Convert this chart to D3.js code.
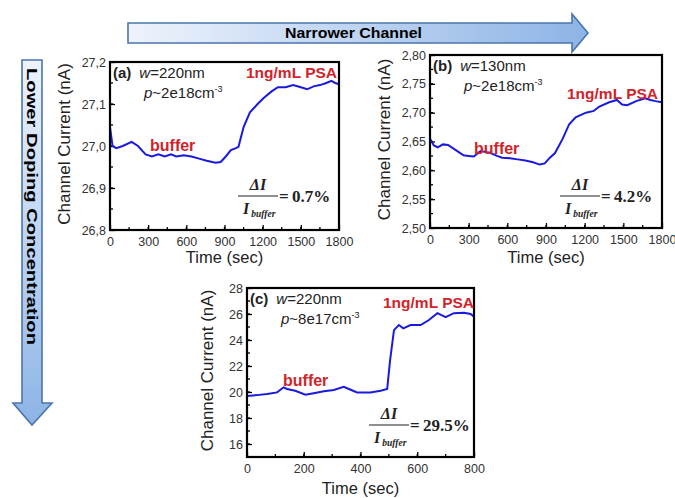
<!DOCTYPE html>
<html>
<head>
<meta charset="utf-8">
<script src="https://cdn.jsdelivr.net/npm/d3@7"></script>
<style>
  body { margin: 0; background: #fff; }
  svg { font-family: Arial, "Liberation Sans", sans-serif; }
  .tick text { fill: #333; }
</style>
</head>
<body>
<div id="fig"></div>
<script>
// readings, one set per panel
var timeA = [0, 20, 50, 100, 170, 220, 280, 330, 380, 430, 480, 520, 580, 640, 700, 760, 830, 870, 910, 950, 990, 1010, 1050, 1100, 1160, 1210, 1270, 1320, 1380, 1440, 1500, 1550, 1600, 1650, 1700, 1740, 1770, 1800];
var currA = [27.045, 27.0, 26.995, 27.0, 27.01, 27.0, 26.98, 26.975, 26.98, 26.975, 26.98, 26.975, 26.978, 26.975, 26.97, 26.965, 26.96, 26.962, 26.975, 26.99, 26.995, 26.998, 27.045, 27.08, 27.1, 27.115, 27.13, 27.14, 27.14, 27.145, 27.14, 27.135, 27.142, 27.145, 27.15, 27.155, 27.15, 27.147];

var timeB = [0, 30, 60, 100, 140, 200, 260, 300, 340, 390, 430, 470, 520, 560, 620, 680, 740, 800, 850, 890, 930, 970, 1030, 1080, 1130, 1210, 1270, 1310, 1390, 1450, 1490, 1530, 1600, 1670, 1710, 1750, 1800];
var currB = [2.655, 2.643, 2.640, 2.645, 2.644, 2.635, 2.626, 2.625, 2.624, 2.633, 2.632, 2.630, 2.625, 2.622, 2.621, 2.619, 2.617, 2.614, 2.610, 2.612, 2.622, 2.630, 2.655, 2.680, 2.692, 2.700, 2.703, 2.710, 2.718, 2.722, 2.714, 2.713, 2.720, 2.725, 2.722, 2.720, 2.718];

var timeC = [0, 35, 71, 106, 129, 141, 170, 206, 235, 271, 306, 341, 359, 388, 435, 471, 494, 504, 518, 535, 551, 576, 612, 641, 671, 700, 729, 765, 788, 800];
var currC = [19.7, 19.76, 19.84, 19.97, 20.36, 20.23, 20.1, 19.79, 19.9, 20.05, 20.15, 20.4, 20.23, 19.97, 19.97, 20.1, 20.23, 22.4, 24.76, 25.15, 24.9, 25.15, 25.15, 25.54, 26.06, 25.75, 26.06, 26.1, 26.0, 25.8];

var panels = [
  { tag: "(a)", w: "220nm", p: "2e18", time: timeA, curr: currA,
    x0: 110, x1: 339, y0: 62, y1: 230, xmax: 1800, xticks: [0, 300, 600, 900, 1200, 1500, 1800],
    yd: [26.8, 27.2], yticks: [26.8, 26.9, 27.0, 27.1, 27.2], yfmt: function(v) { return d3.format(".1f")(v).replace(".", ","); },
    ratio: "0.7%", psaX: 246, psaY: 78, bufX: 150, bufY: 151, fracX: 258, fracY: 196, ytitleX: 70, timeY: 263 },
  { tag: "(b)", w: "130nm", p: "2e18", time: timeB, curr: currB,
    x0: 430, x1: 662, y0: 55, y1: 228, xmax: 1800, xticks: [0, 300, 600, 900, 1200, 1500, 1800],
    yd: [2.5, 2.8], yticks: [2.5, 2.55, 2.6, 2.65, 2.7, 2.75, 2.8], yfmt: function(v) { return d3.format(".2f")(v).replace(".", ","); },
    ratio: "4.2%", psaX: 567, psaY: 99, bufX: 474, bufY: 154, fracX: 580, fracY: 196, ytitleX: 390, timeY: 263 },
  { tag: "(c)", w: "220nm", p: "8e17", time: timeC, curr: currC,
    x0: 247, x1: 474, y0: 288, y1: 457, xmax: 800, xticks: [0, 200, 400, 600, 800],
    yd: [15, 28], yticks: [16, 18, 20, 22, 24, 26, 28], yfmt: d3.format("d"),
    ratio: "29.5%", psaX: 383, psaY: 308, bufX: 283, bufY: 386, fracX: 389, fracY: 425, ytitleX: 213, timeY: 494 }
];

var width = 675, height = 498;

var svg = d3.select("#fig").append("svg")
  .attr("width", width)
  .attr("height", height);

var defs = svg.append("defs");
var gH = defs.append("linearGradient").attr("id", "gradH")
  .attr("x1", "0%").attr("x2", "100%").attr("y1", "0%").attr("y2", "0%");
gH.append("stop").attr("offset", "0%").attr("stop-color", "#eef3fc");
gH.append("stop").attr("offset", "100%").attr("stop-color", "#8db4e6");
var gV = defs.append("linearGradient").attr("id", "gradV")
  .attr("x1", "0%").attr("x2", "0%").attr("y1", "0%").attr("y2", "100%");
gV.append("stop").attr("offset", "0%").attr("stop-color", "#eef3fc");
gV.append("stop").attr("offset", "100%").attr("stop-color", "#8db4e6");

// horizontal arrow
svg.append("path")
  .attr("d", "M128,23 L572,23 L572,14 L588,33 L572,52 L572,43 L128,43 Z")
  .attr("fill", "url(#gradH)")
  .attr("stroke", "#4a76ad")
  .attr("stroke-width", 1.6);
svg.append("text")
  .attr("x", 285).attr("y", 38)
  .attr("textLength", 137).attr("lengthAdjust", "spacingAndGlyphs")
  .attr("font-size", 14).attr("font-weight", "bold")
  .text("Narrower Channel");

// vertical arrow
svg.append("path")
  .attr("d", "M22,60 L42,60 L42,403 L52,403 L32,425 L13,403 L22,403 Z")
  .attr("fill", "url(#gradV)")
  .attr("stroke", "#4a76ad")
  .attr("stroke-width", 1.6);
svg.append("text")
  .attr("transform", "translate(27,68) rotate(90)")
  .attr("textLength", 277).attr("lengthAdjust", "spacingAndGlyphs")
  .attr("font-size", 14).attr("font-weight", "bold")
  .text("Lower Doping Concentration");

panels.forEach(function(P) {
  var x = d3.scaleLinear().domain([0, P.xmax]).range([P.x0, P.x1]);
  var y = d3.scaleLinear().domain(P.yd).range([P.y1, P.y0]);
  var g = svg.append("g");

  // minor ticks
  var xminor = d3.range(0, P.xmax + 1, P.xticks[1] / 2);
  g.selectAll(".xm").data(xminor).enter().append("line")
    .attr("x1", function(d) { return x(d); }).attr("x2", function(d) { return x(d); })
    .attr("y1", P.y1).attr("y2", P.y1 - 3)
    .attr("stroke", "#000").attr("stroke-width", 1.3);
  var ystep = P.yticks[1] - P.yticks[0];
  var yminor = d3.range(P.yticks[0] - ystep / 2, P.yd[1] + 1e-9, ystep / 2).filter(function(v) { return v >= P.yd[0] - 1e-9; });
  g.selectAll(".ym").data(yminor).enter().append("line")
    .attr("x1", P.x0).attr("x2", P.x0 + 3)
    .attr("y1", function(d) { return y(d); }).attr("y2", function(d) { return y(d); })
    .attr("stroke", "#000").attr("stroke-width", 1.3);

  var xAxis = g.append("g")
    .attr("transform", "translate(0," + P.y1 + ")")
    .call(d3.axisBottom(x).tickValues(P.xticks).tickSize(-5).tickPadding(7).tickFormat(d3.format("d")));
  xAxis.selectAll("text").attr("font-size", 12.5).attr("font-family", "Arial, sans-serif");
  xAxis.select(".domain").remove();

  var yAxis = g.append("g")
    .attr("transform", "translate(" + P.x0 + ",0)")
    .call(d3.axisLeft(y).tickValues(P.yticks).tickSize(-5).tickPadding(4).tickFormat(P.yfmt));
  yAxis.selectAll("text").attr("font-size", 12.5).attr("font-family", "Arial, sans-serif");
  yAxis.select(".domain").remove();
  yAxis.selectAll("line").attr("stroke-width", 1.3);
  xAxis.selectAll("line").attr("stroke-width", 1.3);

  var pts = P.time.map(function(t, i) { return [t, P.curr[i]]; });
  g.append("path")
    .datum(pts)
    .attr("fill", "none")
    .attr("stroke", "#1a1adf")
    .attr("stroke-width", 2)
    .attr("d", d3.line().x(function(d) { return x(d[0]); }).y(function(d) { return y(d[1]); }));

  g.append("rect")
    .attr("x", P.x0).attr("y", P.y0)
    .attr("width", P.x1 - P.x0).attr("height", P.y1 - P.y0)
    .attr("fill", "none").attr("stroke", "#000").attr("stroke-width", 2.2);

  // axis titles
  g.append("text")
    .attr("transform", "translate(" + P.ytitleX + "," + ((P.y0 + P.y1) / 2 - 2) + ") rotate(-90)")
    .attr("text-anchor", "middle")
    .attr("font-size", 17).attr("fill", "#222")
    .text("Channel Current (nA)");
  g.append("text")
    .attr("x", (P.x0 + P.x1) / 2).attr("y", P.timeY)
    .attr("text-anchor", "middle")
    .attr("font-size", 16.5).attr("fill", "#222")
    .text("Time (sec)");

  // panel labels
  var lab = g.append("text").attr("x", P.x0 + 3).attr("y", P.y0 + 16).attr("font-size", 15).attr("fill", "#222");
  lab.append("tspan").attr("font-weight", "bold").text(P.tag);
  lab.append("tspan").attr("dx", 8).attr("font-style", "italic").text("w");
  lab.append("tspan").text("=" + P.w);
  var lab2 = g.append("text").attr("x", P.x0 + 34).attr("y", P.y0 + 36).attr("font-size", 15).attr("fill", "#222");
  lab2.append("tspan").attr("font-style", "italic").text("p");
  lab2.append("tspan").text("~" + P.p + "cm");
  lab2.append("tspan").attr("font-size", 9).attr("dy", -6).text("-3");

  g.append("text")
    .attr("x", P.psaX).attr("y", P.psaY)
    .attr("font-size", 15.5).attr("font-weight", "bold").attr("fill", "#d1232a")
    .text("1ng/mL PSA");
  g.append("text")
    .attr("x", P.bufX).attr("y", P.bufY)
    .attr("font-size", 16).attr("font-weight", "bold").attr("fill", "#d1232a")
    .text("buffer");

  // ratio formula
  var f = g.append("g").attr("font-family", "'Liberation Serif', 'Times New Roman', serif").attr("font-weight", "bold").attr("fill", "#222");
  f.append("text").attr("x", P.fracX).attr("y", P.fracY - 6).attr("text-anchor", "middle")
    .attr("font-size", 16).attr("font-style", "italic").text("\u0394I");
  f.append("line").attr("x1", P.fracX - 20).attr("x2", P.fracX + 20)
    .attr("y1", P.fracY).attr("y2", P.fracY).attr("stroke", "#222").attr("stroke-width", 1.2);
  var den = f.append("text").attr("x", P.fracX - 15).attr("y", P.fracY + 18).attr("font-size", 16).attr("font-style", "italic");
  den.append("tspan").text("I");
  den.append("tspan").attr("font-size", 9.5).attr("dy", 3).attr("dx", 2).text("buffer");
  f.append("text").attr("x", P.fracX + 21).attr("y", P.fracY + 6)
    .attr("font-size", 17).text("=" + "\u2009" + P.ratio);
});
</script>
</body>
</html>
